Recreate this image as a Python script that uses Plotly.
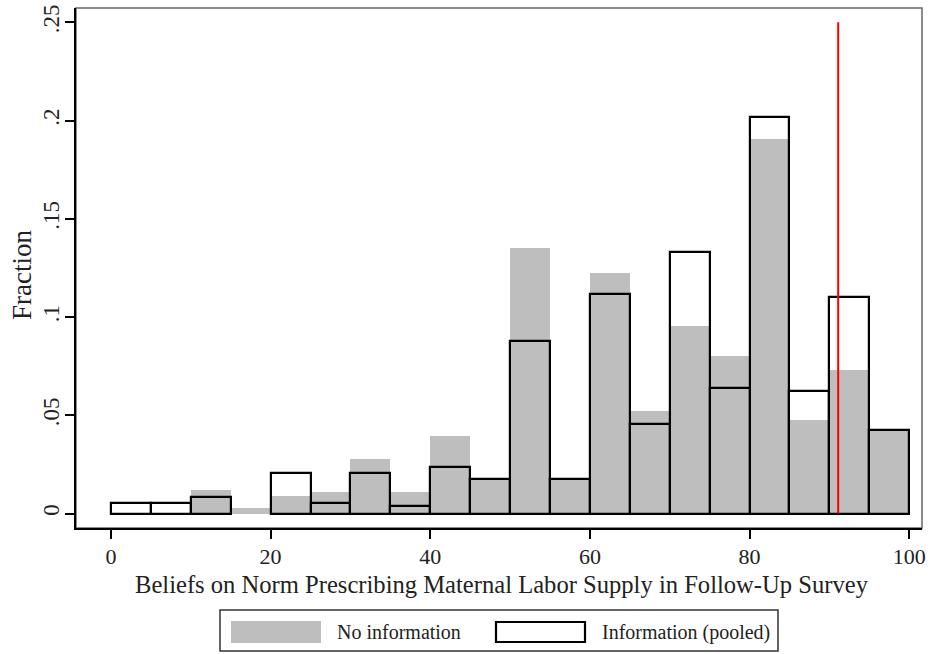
import plotly.graph_objects as go

# ---- data ----
bin_left = [0, 5, 10, 15, 20, 25, 30, 35, 40, 45, 50, 55, 60, 65, 70, 75, 80, 85, 90, 95]
bin_width = 5
no_info = [0, 0, 0.0122, 0.0029, 0.0088, 0.0108, 0.0278, 0.0108, 0.0397, 0.0178,
           0.1351, 0.0176, 0.1224, 0.0524, 0.0956, 0.0804, 0.1906, 0.0478, 0.0729, 0.0427]
info_pooled = [0.0054, 0.0054, 0.0085, 0, 0.0207, 0.0054, 0.0207, 0.0037, 0.0237, 0.0178,
               0.0877, 0.0176, 0.1119, 0.0458, 0.1331, 0.0639, 0.2018, 0.0622, 0.1102, 0.0427]
ref_line_x = 91.1
ref_line_y = [0, 0.25]
x_ticks = [0, 20, 40, 60, 80, 100]
y_ticks = [0, 0.05, 0.1, 0.15, 0.2, 0.25]
y_ticktext = ["0", ".05", ".1", ".15", ".2", ".25"]
x_title = "Beliefs on Norm Prescribing Maternal Labor Supply in Follow-Up Survey"
y_title = "Fraction"
legend_labels = ["No information", "Information (pooled)"]

centers = [b + bin_width / 2 for b in bin_left]
FONT = "Liberation Serif"
GRAY = "#bebebe"
TXT = "#222222"

fig = go.Figure()
fig.add_trace(go.Bar(
    x=centers, y=[v if v > 0 else None for v in no_info], width=bin_width,
    marker=dict(color=GRAY, line=dict(width=0)), name=legend_labels[0],
    showlegend=False))
fig.add_trace(go.Bar(
    x=centers, y=[v if v > 0 else None for v in info_pooled], width=bin_width,
    marker=dict(color="rgba(0,0,0,0)", line=dict(color="black", width=2.2)),
    name=legend_labels[1], showlegend=False))
fig.add_trace(go.Scatter(
    x=[ref_line_x, ref_line_x], y=ref_line_y, mode="lines",
    line=dict(color="red", width=2), showlegend=False))

W, H = 930, 654
L, R, T, B = 76, 8, 8, 126
pw, ph = W - L - R, H - T - B


def px(x):  # page pixel -> paper
    return (x - L) / pw


def py(y):
    return (H - B - y) / ph


shapes = [
    dict(type="rect", xref="paper", yref="paper", x0=0, x1=1, y0=0, y1=1,
         line=dict(color="#666666", width=1.5), layer="below"),
    dict(type="rect", xref="paper", yref="paper", x0=px(220), x1=px(778),
         y0=py(651), y1=py(610), line=dict(color="#333333", width=1.5)),
    dict(type="rect", xref="paper", yref="paper", x0=px(231), x1=px(321),
         y0=py(643), y1=py(621), line=dict(width=0), fillcolor=GRAY),
    dict(type="rect", xref="paper", yref="paper", x0=px(496), x1=px(585),
         y0=py(642), y1=py(622), line=dict(color="black", width=2.2),
         fillcolor="white"),
]
annotations = [
    dict(text=legend_labels[0], xref="paper", yref="paper", x=px(335), y=py(632),
         xanchor="left", yanchor="middle", showarrow=False,
         font=dict(family=FONT, size=20, color=TXT)),
    dict(text=legend_labels[1], xref="paper", yref="paper", x=px(600), y=py(632),
         xanchor="left", yanchor="middle", showarrow=False,
         font=dict(family=FONT, size=20, color=TXT)),
    dict(text=y_title, xref="paper", yref="paper", x=px(22), y=py(275),
         xanchor="center", yanchor="middle", textangle=-90, showarrow=False,
         font=dict(family=FONT, size=27, color=TXT)),
    dict(text=x_title, xref="paper", yref="paper", x=px(502), y=py(584),
         xanchor="center", yanchor="middle", showarrow=False,
         font=dict(family=FONT, size=24.6, color=TXT)),
]

fig.update_layout(
    width=W, height=H,
    margin=dict(l=L, r=R, t=T, b=B, autoexpand=False),
    paper_bgcolor="white", plot_bgcolor="white",
    barmode="overlay", bargap=0,
    shapes=shapes, annotations=annotations,
    font=dict(family=FONT, color=TXT),
    xaxis=dict(range=[-4.38, 101.6], tickvals=x_ticks, ticks="outside",
               ticklen=9, tickwidth=1.5, tickcolor="black",
               showline=True, linecolor="black", linewidth=2,
               showgrid=False, zeroline=False, ticklabeloverflow="allow",
               ticklabelstandoff=-1,
               tickfont=dict(family=FONT, size=22, color=TXT)),
    yaxis=dict(range=[-0.00738, 0.2573], tickvals=y_ticks, ticktext=y_ticktext,
               ticks="outside", ticklen=9, tickwidth=1.5, tickcolor="black",
               tickangle=-90, ticklabelstandoff=-3, ticklabeloverflow="allow",
               showline=True, linecolor="black", linewidth=2,
               showgrid=False, zeroline=False,
               tickfont=dict(family=FONT, size=23, color=TXT)),
)

fig.write_html("out.html", config={"displayModeBar": False},
               post_script="document.body.style.margin='0';document.body.style.overflow='hidden';")
